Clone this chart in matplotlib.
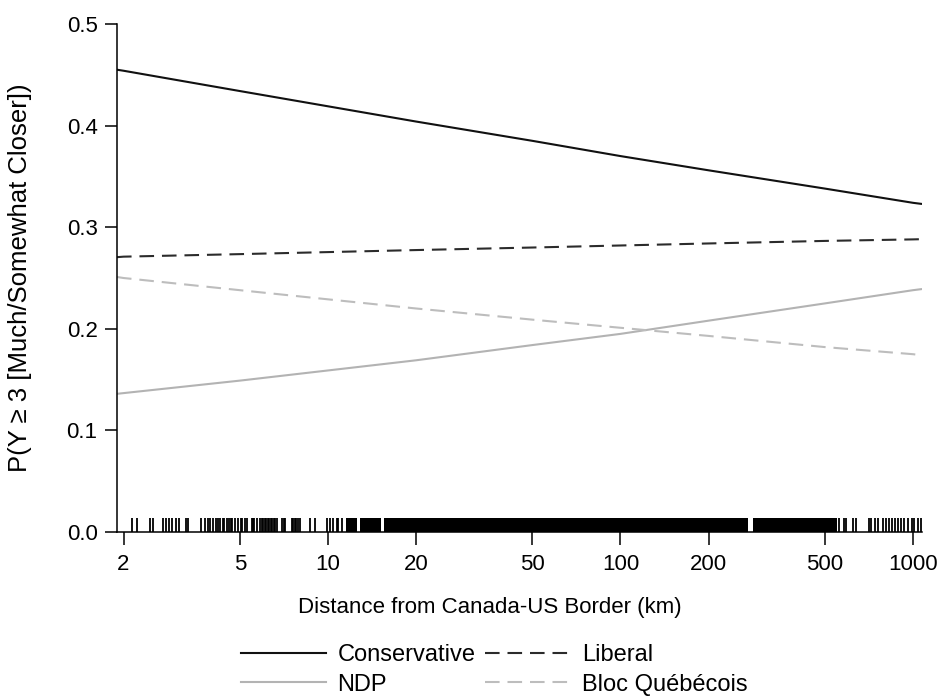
import numpy as np
import matplotlib
matplotlib.use('Agg')
import matplotlib.pyplot as plt
from matplotlib.lines import Line2D

plt.rcParams['font.family'] = ['Liberation Sans', 'DejaVu Sans']

# predicted probabilities by distance to the border (km)
distance_km  = [1.9, 2, 5, 10, 20, 50, 100, 200, 500, 1000, 1065]
conservative = [0.455, 0.454, 0.434, 0.419, 0.404, 0.385, 0.370, 0.356, 0.338, 0.324, 0.323]
liberal      = [0.2705, 0.271, 0.2735, 0.2755, 0.2775, 0.280, 0.282, 0.284, 0.2865, 0.288, 0.2882]
ndp          = [0.136, 0.1367, 0.149, 0.159, 0.169, 0.184, 0.195, 0.208, 0.225, 0.238, 0.239]
bloc         = [0.251, 0.250, 0.238, 0.229, 0.220, 0.209, 0.201, 0.193, 0.182, 0.175, 0.174]

# observed respondent distances (rug): isolated values and continuous stretches
rug_km = [2.14, 2.22, 2.46, 2.52, 2.73, 2.79, 2.86, 2.93, 3.02, 3.09, 3.27, 3.32,
          3.68, 3.80, 3.89, 3.95, 4.04, 4.14, 4.21, 4.28, 4.38, 4.42, 4.50, 4.58,
          4.65, 4.70, 4.81, 4.92, 5.04, 5.10, 5.20, 5.30, 5.50, 5.54, 5.60, 5.71,
          5.86, 5.95, 6.00, 6.09, 6.15, 6.24, 6.30, 6.39, 6.45, 6.54, 6.60, 6.69,
          6.96, 7.05, 7.13, 7.53, 7.60, 7.71, 7.80, 7.90, 8.02, 8.68, 9.03, 9.92,
          10.2, 10.4, 10.7, 10.8, 11.2,
          560, 580, 590, 625, 640, 705, 720, 740, 760, 790, 810, 830, 850, 870,
          890, 910, 930, 960, 990, 1010, 1040, 1064]
rug_bands = [(11.5, 12.6), (12.9, 15.2), (15.5, 273), (284, 550)]

xticks = [2, 5, 10, 20, 50, 100, 200, 500, 1000]
yticks = [0.0, 0.1, 0.2, 0.3, 0.4, 0.5]

fig = plt.figure(figsize=(9.41, 6.98), dpi=100)
ax = fig.add_axes([117 / 941, 1 - 532 / 698, 804.6 / 941, 508 / 698])

dash = (7, 3.8)
ax.plot(distance_km, conservative, color='#111111', lw=1.5)
ax.plot(distance_km, liberal, color='#2b2b2b', lw=1.5, dashes=dash)
ax.plot(distance_km, ndp, color='#b3b3b3', lw=1.5)
ax.plot(distance_km, bloc, color='#bdbdbd', lw=1.5, dashes=dash)

rug_h = 0.0138
ax.vlines(rug_km, 0, rug_h, color='black', lw=1.3)
ax.broken_barh([(lo, hi - lo) for lo, hi in rug_bands], (0, rug_h), color='black', lw=0)

ax.set_xscale('log')
ax.set_xlim(1.9, 1070)
ax.set_ylim(0, 0.5)
ax.set_xticks(xticks)
ax.set_xticklabels([str(v) for v in xticks])
ax.xaxis.set_minor_locator(matplotlib.ticker.NullLocator())
ax.set_yticks(yticks)
ax.set_yticklabels([f'{v:.1f}' for v in yticks])

for s in ['top', 'right']:
    ax.spines[s].set_visible(False)
for s in ['left', 'bottom']:
    ax.spines[s].set_linewidth(1.1)
ax.tick_params(axis='both', length=9, width=1.1, labelsize=16, color='black')
ax.tick_params(axis='x', pad=7)
ax.tick_params(axis='y', pad=5)

fig.text(490 / 941, 1 - 607 / 698, 'Distance from Canada-US Border (km)',
         ha='center', va='center', fontsize=16)
fig.text(20 / 941, 1 - 278 / 698, 'P(Y \u2265 3 [Much/Somewhat Closer])',
         ha='center', va='center', rotation=90, fontsize=18.5)

handles = [
    Line2D([], [], color='#111111', lw=1.5),
    Line2D([], [], color='#b3b3b3', lw=1.5),
    Line2D([], [], color='#2b2b2b', lw=1.5, dashes=dash),
    Line2D([], [], color='#bdbdbd', lw=1.5, dashes=dash),
]
labels = ['Conservative', 'NDP', 'Liberal', 'Bloc Qu\u00e9b\u00e9cois']
fig.legend(handles, labels, ncol=2, loc='center', bbox_to_anchor=(494 / 941, 1 - 670 / 698),
           frameon=False, fontsize=17, handlelength=3.6, handletextpad=0.5,
           columnspacing=0.4, labelspacing=0.3, borderpad=0)

fig.savefig('out.png', dpi=100)
